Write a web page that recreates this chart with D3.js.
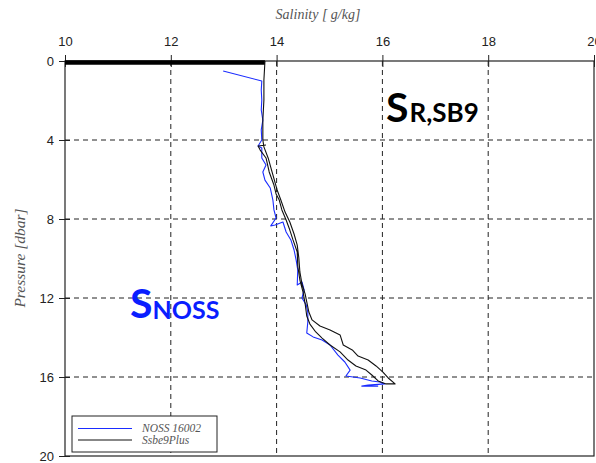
<!DOCTYPE html>
<html>
<head>
<meta charset="utf-8">
<script src="https://cdn.jsdelivr.net/npm/d3@7/dist/d3.min.js"></script>
<style>
  html, body { margin: 0; padding: 0; background: #fff; }
  svg { display: block; }
</style>
</head>
<body>
<svg id="chart" width="596" height="463"></svg>
<script>
// Salinity profiles (salinity in g/kg, pressure in dbar)
const salTicks = [10, 12, 14, 16, 18, 20];
const presTicks = [0, 4, 8, 12, 16, 20];
const salGrid = [12, 14, 16, 18];
const presGrid = [4, 8, 12, 16];

// NOSS 16002 cast
const nossSal = [12.99, 13.72, 13.71, 13.72, 13.71, 13.74, 13.71, 13.72, 13.65, 13.72, 13.72, 13.80, 13.74, 13.78,
  13.88, 13.93, 13.95, 13.99, 13.89, 13.97, 14.12, 14.18, 14.27, 14.33, 14.37, 14.40, 14.39, 14.48, 14.52,
  14.48, 14.56, 14.59, 14.59, 14.57, 14.69, 14.86, 15.01, 15.16, 15.29, 15.39, 15.31, 15.58, 15.80, 15.95,
  16.05, 15.73, 15.61, 15.92];
const nossPres = [0.51, 1.01, 1.47, 1.97, 2.48, 2.99, 3.49, 4.00, 4.30, 4.41, 4.91, 5.27, 5.62, 6.03,
  6.43, 7.04, 7.54, 7.95, 8.35, 8.30, 8.15, 8.66, 9.06, 9.57, 10.08, 10.58, 11.34, 11.19, 11.59,
  12.00, 12.35, 12.71, 13.22, 13.77, 13.97, 14.13, 14.38, 14.89, 15.24, 15.65, 15.95, 16.05, 16.20, 16.25,
  16.35, 16.41, 16.46, 16.46];

// Ssbe9Plus cast (down and up)
const sbeSal = [13.78, 13.76, 13.76, 13.74, 13.74, 13.76, 13.84, 13.93, 14.01, 14.08, 14.16, 14.25, 14.33, 14.39,
  14.42, 14.44, 14.48, 14.54, 14.57, 14.61, 14.67, 14.82, 15.01, 15.20, 15.26, 15.43, 15.54, 15.73, 15.88,
  16.01, 16.11, 16.24,
  16.07, 15.92, 15.80, 15.69, 15.50, 15.35, 15.20, 15.01, 14.86, 14.74, 14.63, 14.57, 14.54, 14.50, 14.44,
  14.40, 14.39, 14.31, 14.25, 14.18, 14.10, 14.05, 13.99, 13.95, 13.86, 13.80, 13.69, 13.65, 13.80];
const sbePres = [0.00, 0.96, 1.97, 2.99, 4.00, 4.35, 4.91, 5.77, 6.53, 7.04, 7.65, 8.15, 8.76, 9.32,
  9.97, 10.68, 11.29, 11.80, 12.20, 12.71, 13.11, 13.42, 13.62, 13.87, 14.38, 14.63, 14.94, 15.14, 15.44,
  15.75, 16.05, 16.35,
  16.35, 16.20, 15.90, 15.65, 15.44, 15.14, 14.73, 14.38, 14.03, 13.72, 13.32, 12.91, 12.30, 11.70, 11.09,
  10.38, 9.67, 9.06, 8.56, 8.05, 7.54, 7.04, 6.73, 6.28, 5.62, 4.91, 4.51, 4.30, 4.25];

// Ssbe9Plus records logged at the surface
const surfaceSal = [10.0, 13.78];
const surfacePres = [0.07, 0.07];

const seriesNames = ["NOSS 16002", "Ssbe9Plus"];
const seriesColors = ["#1a2cff", "#111111"];

const svg = d3.select("#chart");
const x = d3.scaleLinear().domain([10, 20]).range([65, 594]);
const y = d3.scaleLinear().domain([0, 20]).range([61, 456]);

const serif = "'Liberation Serif', 'DejaVu Serif', serif";
const sans = "'Liberation Sans', Arial, sans-serif";

// dashed grid
svg.append("g").selectAll("line").data(salGrid).join("line")
  .attr("x1", d => x(d)).attr("x2", d => x(d))
  .attr("y1", y(0)).attr("y2", y(20))
  .attr("stroke", "#222").attr("stroke-dasharray", "5,4").attr("stroke-width", 1);
svg.append("g").selectAll("line").data(presGrid).join("line")
  .attr("x1", x(10)).attr("x2", x(20))
  .attr("y1", d => y(d)).attr("y2", d => y(d))
  .attr("stroke", "#222").attr("stroke-dasharray", "5,4").attr("stroke-width", 1);

// frame
svg.append("rect")
  .attr("x", x(10)).attr("y", y(0))
  .attr("width", x(20) - x(10)).attr("height", y(20) - y(0))
  .attr("fill", "none").attr("stroke", "#222").attr("stroke-width", 1.2);

// top axis
const topAxis = d3.axisTop(x).tickValues(salTicks).tickFormat(d3.format("d")).tickSizeInner(6).tickSizeOuter(0).tickPadding(9);
const gt = svg.append("g").attr("transform", `translate(0,${y(0)})`).call(topAxis);
gt.select(".domain").remove();
gt.selectAll(".tick line").attr("y2", -6).attr("y1", 6).attr("stroke", "#222");
gt.selectAll(".tick text").attr("font-family", sans).attr("font-size", 13).attr("fill", "#222");

// left axis
const leftAxis = d3.axisLeft(y).tickValues(presTicks).tickFormat(d3.format("d")).tickSizeInner(6).tickSizeOuter(0).tickPadding(5);
const gl = svg.append("g").attr("transform", `translate(${x(10)},0)`).call(leftAxis);
gl.select(".domain").remove();
gl.selectAll(".tick line").attr("x2", -6).attr("x1", 5).attr("stroke", "#222");
gl.selectAll(".tick text").attr("font-family", sans).attr("font-size", 13).attr("fill", "#222");

// axis titles
svg.append("text").attr("x", 318).attr("y", 19).attr("text-anchor", "middle")
  .attr("font-family", serif).attr("font-style", "italic").attr("font-size", 14).attr("fill", "#555")
  .text("Salinity [ g/kg]");
svg.append("text").attr("transform", "translate(25,258) rotate(-90)").attr("text-anchor", "middle")
  .attr("font-family", serif).attr("font-style", "italic").attr("font-size", 15.5).attr("fill", "#555")
  .text("Pressure [dbar]");

// profile lines
const line = d3.line().x(d => x(d[0])).y(d => y(d[1]));
svg.append("defs").append("clipPath").attr("id", "plotclip")
  .append("rect").attr("x", x(10)).attr("y", y(0) - 2).attr("width", x(20) - x(10)).attr("height", y(20) - y(0) + 2);

const plot = svg.append("g").attr("clip-path", "url(#plotclip)");
plot.append("path").datum(d3.zip(surfaceSal, surfacePres)).attr("d", line)
  .attr("fill", "none").attr("stroke", "#000").attr("stroke-width", 4.5);
plot.append("path").datum(d3.zip(nossSal, nossPres)).attr("d", line)
  .attr("fill", "none").attr("stroke", seriesColors[0]).attr("stroke-width", 1.1).attr("stroke-linejoin", "round");
plot.append("path").datum(d3.zip(sbeSal, sbePres)).attr("d", line)
  .attr("fill", "none").attr("stroke", seriesColors[1]).attr("stroke-width", 1.1).attr("stroke-linejoin", "round");

// legend
const lg = svg.append("g");
lg.append("rect").attr("x", 72).attr("y", 416).attr("width", 145).attr("height", 36)
  .attr("fill", "#fff").attr("stroke", "#222").attr("stroke-width", 1);
seriesNames.forEach((name, i) => {
  const ly = 428.5 + i * 11.5;
  lg.append("line").attr("x1", 78).attr("x2", 132).attr("y1", ly).attr("y2", ly)
    .attr("stroke", seriesColors[i]).attr("stroke-width", 1.2);
  lg.append("text").attr("x", 142).attr("y", ly + 3.5)
    .attr("font-family", serif).attr("font-style", "italic").attr("font-size", 11.5).attr("fill", "#555")
    .text(name);
});

// series annotations
const bold = "Lato, 'Open Sans', sans-serif";
const a1 = svg.append("text").attr("x", 386).attr("y", 122).attr("font-family", bold).attr("font-weight", "bold").attr("fill", "#000");
a1.append("tspan").attr("font-size", 41).text("S");
a1.append("tspan").attr("font-size", 26).attr("dx", 1).text("R,SB9");
const a2 = svg.append("text").attr("x", 130).attr("y", 318).attr("font-family", bold).attr("font-weight", "bold").attr("fill", "#0a1eff");
a2.append("tspan").attr("font-size", 41).text("S");
a2.append("tspan").attr("font-size", 25).attr("dx", 0).attr("dy", 1).text("NOSS");
</script>
</body>
</html>
